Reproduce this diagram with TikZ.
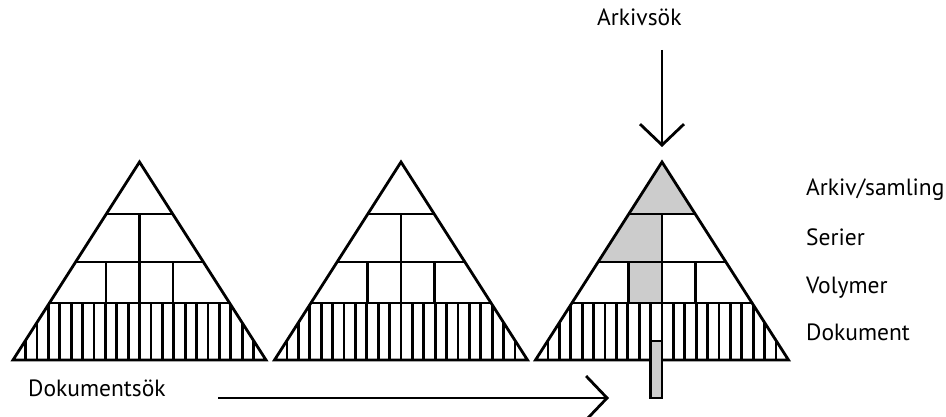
\documentclass[tikz,border=0pt]{standalone}
\usepackage{fontspec}
\setmainfont{PT Sans}
\usetikzlibrary{arrows.meta}
\tikzset{
  pyr/.style={line width=2.8pt, line join=miter},
  sel/.style={fill=black!20},
  lbl/.style={anchor=base west, inner sep=0pt, font=\fontsize{23.5}{28}\selectfont},
  search/.style={line width=2.8pt, -{Straight Barb[length=21pt,width=44pt]}}
}
\begin{document}
\begin{tikzpicture}[x=1pt,y=-1pt]
  \useasboundingbox (0,0) rectangle (946,417);
  % Corners of the three pyramids
  \foreach \c [count=\i] in {139.5,401,662} {
    \coordinate (apex\i) at (\c,162);
    \coordinate (left\i) at ({\c-126.5},360);
    \coordinate (right\i) at ({\c+126.5},360);
  }
  % Shade the path of the archive search
  \begin{scope}
    \clip (apex3) -- (left3) -- (right3) -- cycle;
    \fill[sel] (600,150) rectangle (720,214);
    \fill[sel] (500,214) rectangle (662,262);
    \fill[sel] (628.5,262) rectangle (662,303);
  \end{scope}
  % Draw the levels of each pyramid
  \foreach \c [count=\i] in {139.5,401,662} {
    \begin{scope}
      \clip (apex\i) -- (left\i) -- (right\i) -- cycle;
      \foreach \y in {214,262,303}
        \draw[pyr] ({\c-130},\y) -- ({\c+130},\y);
      \draw[pyr] (\c,214) -- (\c,303);
      \draw[pyr] ({\c-33.5},262) -- ({\c-33.5},303) ({\c+33.5},262) -- ({\c+33.5},303);
      \foreach \k in {-10,...,10}
        \draw[pyr] ({\c+11.4*(\k)},303) -- ({\c+11.4*(\k)},360);
    \end{scope}
    \draw[pyr] (apex\i) -- (left\i) -- (right\i) -- cycle;
  }
  % The single document found
  \draw[pyr, sel] (650.6,341) rectangle (662,398);
  % Searches
  \coordinate (arkfrom) at (662,50);
  \coordinate (arkto) at (662,147);
  \coordinate (dokfrom) at (218,398);
  \coordinate (dokto) at (609,398);
  \draw[search] (arkfrom) -- (arkto);
  \draw[search] (dokfrom) -- (dokto);
  \node[lbl] (arkivsok) at (597,26) {Arkivsök};
  \node[lbl] (doksok) at (28,396) {Dokumentsök};
  % Level names
  \foreach \y/\t [count=\i] in {196/{Arkiv/samling},245/Serier,293/Volymer,340/Dokument}
    \node[lbl] (level\i) at (806,\y) {\t};
\end{tikzpicture}
\end{document}
